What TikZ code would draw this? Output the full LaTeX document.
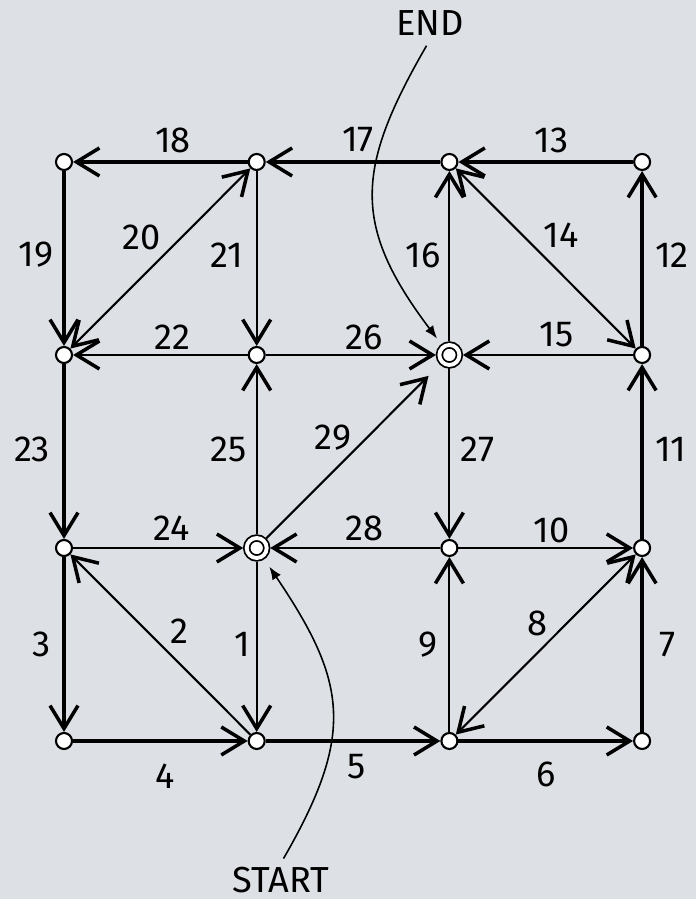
\documentclass[tikz,border=0pt]{standalone}
\usepackage{fontspec}
\setmainfont{Fira Sans}
\usetikzlibrary{arrows.meta, calc}
\definecolor{bgcol}{RGB}{221,225,230}

\begin{document}
\begin{tikzpicture}[
    >={Straight Barb[length=2.3mm, width=2.8mm, line width=1pt]}, % open arrow tips
    vtx/.style={circle, draw, fill=white, inner sep=0pt, minimum size=1.6mm, line width=0.6pt}, % plain vertex
    ring/.style={circle, draw, double=white, double distance=1.1pt, line width=0.5pt, fill=white, inner sep=0pt, minimum size=2.0mm, outer sep=1pt}, % start/end vertex
    rim/.style={->, line width=1.15pt},
    link/.style={->, line width=0.6pt},
    twoway/.style={<->, line width=0.6pt},
    toend/.style={->, line width=0.6pt, shorten >=1.6mm},
    lbl/.style={font=\fontsize{10.3}{12}\selectfont, inner sep=1pt},
    pointer/.style={-{Latex[length=1.3mm, width=1mm]}, line width=0.45pt}
]

% Background and page size
\fill[bgcol] (0,0) rectangle (6.96,8.99);
\useasboundingbox (0,0) rectangle (6.96,8.99);

% Grid vertices
\foreach \i in {0,...,3}
    \foreach \j in {0,...,3}
        \node[vtx] (n\i\j) at ({0.64+1.927*\i}, {1.58+1.93*\j}) {};

% Start and end vertices
\node[ring] (n11) at (n11) {};
\node[ring] (n22) at (n22) {};

% Edges with their numbers
\foreach \a/\b/\t/\s/\dx/\dy in {
    n13/n03/18/rim/0.125/0.22,
    n23/n13/17/rim/0.05/0.22,
    n33/n23/13/rim/0.055/0.22,
    n03/n02/19/rim/-0.28/0.035,
    n02/n01/23/rim/-0.32/0.025,
    n01/n00/3/rim/-0.22/0,
    n00/n10/4/rim/0.045/-0.35,
    n10/n20/5/rim/0.04/-0.26,
    n20/n30/6/rim/0/-0.33,
    n30/n31/7/rim/0.25/0,
    n31/n32/11/rim/0.29/0.025,
    n32/n33/12/rim/0.30/0.035,
    n11/n10/1/link/-0.14/0,
    n10/n01/2/link/0.195/0.135,
    n20/n31/8/twoway/-0.085/0.215,
    n20/n21/9/link/-0.21/0,
    n21/n31/10/link/0.055/0.18,
    n23/n32/14/twoway/0.155/0.235,
    n32/n22/15/link/0.105/0.20,
    n22/n23/16/link/-0.26/0.035,
    n02/n13/20/twoway/-0.185/0.215,
    n13/n12/21/link/-0.30/0.035,
    n12/n02/22/link/0.125/0.18,
    n01/n11/24/link/0.115/0.20,
    n11/n12/25/link/-0.28/0.025,
    n12/n22/26/link/0.11/0.18,
    n22/n21/27/link/0.28/0.025,
    n21/n11/28/link/0.11/0.20,
    n11/n22/29/toend/-0.20/0.135}
{
    \draw[\s] (\a) -- (\b);
    \node[lbl] (l\t) at ($(\a)!0.5!(\b)+(\dx,\dy)$) {\t};
}

% START and END pointers
\node[lbl] (lstart) at (2.81,0.19) {START};
\node[lbl] (lend) at (4.30,8.76) {END};
\draw[pointer, shorten <=0.5mm, shorten >=0.9mm] (lstart.north) to[out=60, in=-56, looseness=1.25] (n11);
\draw[pointer, shorten <=0.7mm, shorten >=0.7mm] (lend.south) to[out=240, in=127, looseness=1.25] (n22);

\end{tikzpicture}
\end{document}
